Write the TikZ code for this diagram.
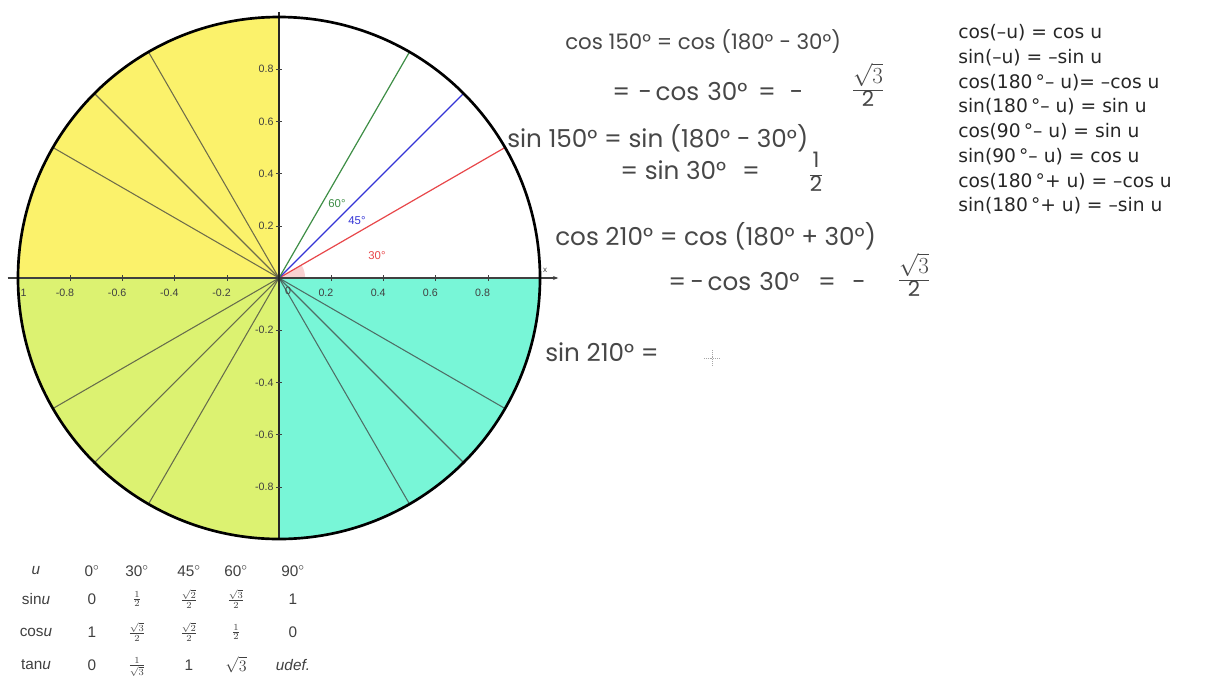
\documentclass[tikz,border=0pt]{standalone}
\usepackage{fontspec}
\setsansfont{Liberation Sans}
\newfontfamily\idfont{DejaVu Sans}
\newfontfamily\handfont{Poppins}
\usetikzlibrary{positioning,arrows.meta}

\definecolor{qtwo}{HTML}{FBF26B}
\definecolor{qthree}{HTML}{DCF271}
\definecolor{qfour}{HTML}{78F6D7}
\definecolor{ink}{HTML}{474747}
\definecolor{angred}{HTML}{E8474A}
\definecolor{angblue}{HTML}{3434D6}
\definecolor{anggreen}{HTML}{3E8E46}

\def\R{195.75pt}

\tikzset{
  ticklbl/.style={font=\sffamily\fontsize{8}{9}\selectfont, text=black!75, inner sep=1pt},
  ray/.style={black!75, opacity=0.75, line width=0.8pt},
  anglbl/.style={font=\sffamily\fontsize{8.5}{9}\selectfont, inner sep=0pt},
  hand/.style={font=\handfont\fontsize{16}{19}\selectfont, text=ink, anchor=west, inner sep=0pt},
  bighand/.style={hand, font=\handfont\fontsize{18.5}{21}\selectfont},
  handfrac/.style={font=\handfont\fontsize{16}{17}\selectfont, text=ink, inner sep=0pt},
  ident/.style={font=\idfont\fontsize{14}{16}\selectfont, text=black!85, anchor=west, inner sep=0pt},
  tab/.style={font=\sffamily\fontsize{11.5}{13}\selectfont, text=black!75, inner sep=0pt},
  tabfrac/.style={tab, font=\sffamily\fontsize{10}{11}\selectfont},
}

\begin{document}
\begin{tikzpicture}[x=0.75pt, y=-0.75pt]
\useasboundingbox (0,0) rectangle (1206,686);
\fill[white] (0,0) rectangle (1206,686);

% unit circle, center at (279,278), radius 261 px
\begin{scope}[shift={(279,278)}, x=\R, y=\R]
  \coordinate (O) at (0,0);

  % coloured quadrants
  \fill[qtwo] (O) -- (0,1) arc[start angle=90, end angle=180, radius=\R] -- cycle;
  \fill[qthree] (O) -- (-1,0) arc[start angle=180, end angle=270, radius=\R] -- cycle;
  \fill[qfour] (O) -- (0,-1) arc[start angle=270, end angle=360, radius=\R] -- cycle;

  % reference angles in the other quadrants
  \foreach \a in {120,135,150,210,225,240,300,315,330}
    \draw[ray] (O) -- (\a:1);

  % first quadrant angles
  \fill[angred!25] (O) -- (0.1,0) arc[start angle=0, end angle=30, radius=0.1*\R] -- cycle;
  \draw[angred, line width=0.9pt] (O) -- (30:1);
  \draw[angblue, line width=0.9pt] (O) -- (45:1);
  \draw[anggreen, line width=0.9pt] (O) -- (60:1);

  % axes
  \draw[black!75, line width=1pt, -{Stealth[length=4pt]}] (-1.04,0) -- (1.07,0);
  \draw[black!85, line width=1.4pt] (0,-1) -- (0,1.02);
  \foreach \t in {-0.8,-0.6,-0.4,-0.2,0.2,0.4,0.6,0.8} {
    \draw[black!75] (\t,-0.012) -- (\t,0.012);
    \draw[black!75] (-0.012,\t) -- (0.012,\t);
  }

  % tick labels
  \foreach \t in {-0.8,-0.6,-0.4,-0.2,0.2,0.4,0.6,0.8}
    \node[ticklbl] (xl\t) at (\t-0.02,-0.055) {\t};
  \node[ticklbl] (xlm1) at (-0.985,-0.055) {-1};
  \node[ticklbl] (xl0) at (0.035,-0.05) {0};
  \foreach \t in {0.8,0.6,0.4,0.2,-0.2,-0.4,-0.6,-0.8}
    \node[ticklbl, anchor=east] (yl\t) at (-0.015,\t) {\t};
  \node[ticklbl, font=\sffamily\fontsize{6}{7}\selectfont] (xname) at (1.02,0.03) {x};

  % circle
  \draw[black, line width=2pt] (O) circle[radius=\R];
\end{scope}

% angle labels
\node[anglbl, text=anggreen] (l60) at (337,204) {60°};
\node[anglbl, text=angblue] (l45) at (357,221) {45°};
\node[anglbl, text=angred] (l30) at (377,256) {30°};

% handwritten work
\node[hand] (h1) at (565,42) {cos 150° = cos (180° − 30°)};
\node[bighand] (h2) at (612,92) {=\hspace{6pt}−\hspace{3pt}cos\hspace{6pt}30°\hspace{8pt}=\hspace{10pt}−};
\node[handfrac] (f1) at (868,88) {\begin{tabular}{@{}c@{}}$\sqrt{3}$\\\hline 2\end{tabular}};
\node[bighand] (h3) at (507,138) {sin 150° = sin (180° − 30°)};
\node[bighand] (h4) at (620,170) {=\hspace{5pt}sin 30°\hspace{12pt}=};
\node[handfrac] (f2) at (816,175) {\begin{tabular}{@{}c@{}}1\\\hline 2\end{tabular}};
\node[bighand] (h5) at (555,236) {cos 210° = cos (180° + 30°)};
\node[bighand] (h6) at (668,282) {=\hspace{3pt}−\hspace{3pt}cos\hspace{6pt}30°\hspace{14pt}=\hspace{12pt}−};
\node[handfrac] (f3) at (914,278) {\begin{tabular}{@{}c@{}}$\sqrt{3}$\\\hline 2\end{tabular}};
\node[bighand] (h7) at (545,352) {sin 210° =};

% mouse cursor
\draw[black!35, densely dotted] (704,358) -- (720,358) (712,350) -- (712,366);

% identities
\foreach \t [count=\i] in {cos(–u) = cos u, sin(–u) = –sin u, cos(180\,°– u)= –cos u,
    sin(180\,°– u) = sin u, cos(90\,°– u) = sin u, sin(90\,°– u) = cos u,
    cos(180\,°+ u) = –cos u, sin(180\,°+ u) = –sin u}
  \node[ident] (id\i) at (958,{33+(\i-1)*24.7}) {\t};

% table of exact values
\node[tab] (tu) at (36,571) {\textit{u}};
\node[tab] (t0) at (92,571) {0$^{\circ}$};
\node[tab] (t30) at (137,571) {30$^{\circ}$};
\node[tab] (t45) at (189,571) {45$^{\circ}$};
\node[tab] (t60) at (236,571) {60$^{\circ}$};
\node[tab] (t90) at (293,571) {90$^{\circ}$};

\node[tab] (ts) at (36,599) {sin\textit{u}};
\node[tab] (ts0) at (92,599) {0};
\node[tabfrac] (ts30) at (137,599) {$\frac{1}{2}$};
\node[tabfrac] (ts45) at (189,599) {$\frac{\sqrt{2}}{2}$};
\node[tabfrac] (ts60) at (236,599) {$\frac{\sqrt{3}}{2}$};
\node[tab] (ts90) at (293,599) {1};

\node[tab] (tc) at (36,632) {cos\textit{u}};
\node[tab] (tc0) at (92,632) {1};
\node[tabfrac] (tc30) at (137,632) {$\frac{\sqrt{3}}{2}$};
\node[tabfrac] (tc45) at (189,632) {$\frac{\sqrt{2}}{2}$};
\node[tabfrac] (tc60) at (236,632) {$\frac{1}{2}$};
\node[tab] (tc90) at (293,632) {0};

\node[tab] (tt) at (36,665) {tan\textit{u}};
\node[tab] (tt0) at (92,665) {0};
\node[tabfrac] (tt30) at (137,667) {$\frac{1}{\sqrt{3}}$};
\node[tab] (tt45) at (189,665) {1};
\node[tab] (tt60) at (236,665) {$\sqrt{3}$};
\node[tab] (tt90) at (293,665) {\textit{udef.}};
\end{tikzpicture}
\end{document}
